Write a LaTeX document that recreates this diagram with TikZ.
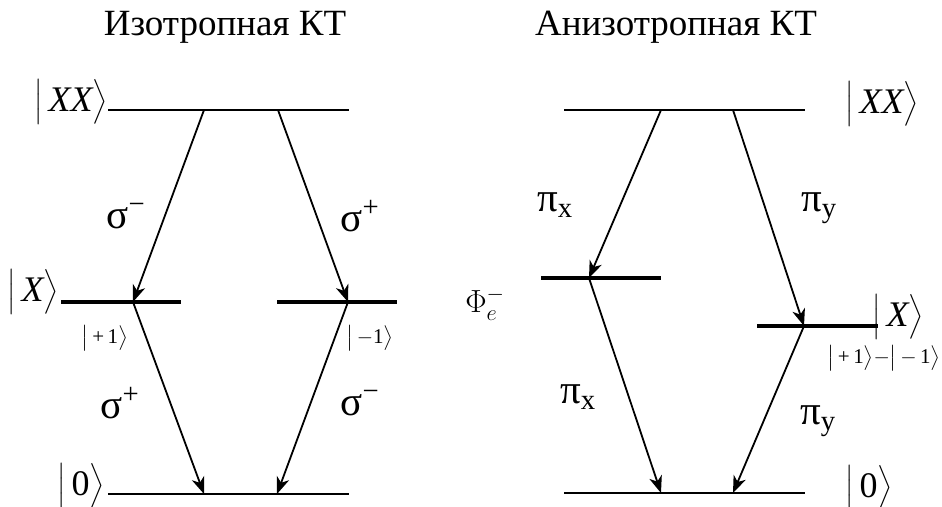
\RequirePackage{fix-cm}
\documentclass[tikz,border=0pt]{standalone}
\usepackage{amsmath}
\usepackage{fontspec}
\setmainfont{Liberation Serif}
\usetikzlibrary{arrows.meta}
\newcommand\myket[1]{$\bigl|\,\text{#1}\bigr\rangle$}
\tikzset{
  lev/.style={line width=2pt},
  xlev/.style={line width=4pt},
  tr/.style={line width=1.8pt, -{Stealth[length=17pt,width=13pt,inset=5pt]}},
  bigt/.style={font=\fontsize{36}{38}\selectfont, inner sep=0pt},
  smallt/.style={font=\fontsize{21}{23}\selectfont, inner sep=0pt},
  lbl/.style={font=\fontsize{41}{44}\selectfont, inner sep=0pt},
  ttl/.style={font=\fontsize{37}{42}\selectfont, inner sep=0pt, anchor=base}
}
\begin{document}
\begin{tikzpicture}[x=1pt,y=-1pt]
\useasboundingbox (0,0) rectangle (942,506);
% titles
\node[ttl] (t1) at (225,35) {Изотропная КТ};
\node[ttl] (t2) at (676,35) {Анизотропная КТ};
% ---------- left diagram
\coordinate (lxxa) at (108,110); \coordinate (lxxb) at (349,110);
\coordinate (lxa1) at (61,302);  \coordinate (lxb1) at (181,302);
\coordinate (lxa2) at (277,302); \coordinate (lxb2) at (397,302);
\coordinate (l0a) at (108,494);  \coordinate (l0b) at (349,494);
\coordinate (ls1) at (204,110); \coordinate (ls2) at (278,110);
\coordinate (lm1) at (133,302); \coordinate (lm2) at (348,302);
\coordinate (le1) at (204,494); \coordinate (le2) at (277,494);
\draw[lev] (lxxa) -- (lxxb);
\draw[xlev] (lxa1) -- (lxb1);
\draw[xlev] (lxa2) -- (lxb2);
\draw[lev] (l0a) -- (l0b);
\draw[tr] (ls1) -- (lm1);
\draw[tr] (ls2) -- (lm2);
\draw[tr] (lm1) -- (le1);
\draw[tr] (lm2) -- (le2);
\node[bigt] (kxxl) at (71,102) {\myket{\itshape XX}};
\node[bigt] (kxl) at (33,292) {\myket{\itshape X}};
\node[bigt] (k0l) at (81,486) {\myket{0}};
\node[smallt] (kp1) at (105,338) {\myket{+\,1}};
\node[smallt] (km1) at (370,338) {\myket{$-$1}};
\node[lbl] (s1) at (126,216) {σ\textsuperscript{−}};
\node[lbl] (s2) at (360,216) {σ\textsuperscript{+}};
\node[lbl] (s3) at (120,403) {σ\textsuperscript{+}};
\node[lbl] (s4) at (360,403) {σ\textsuperscript{−}};
% ---------- right diagram
\coordinate (rxxa) at (564,110); \coordinate (rxxb) at (805,110);
\coordinate (rxa1) at (541,278); \coordinate (rxb1) at (661,278);
\coordinate (rxa2) at (757,326); \coordinate (rxb2) at (878,326);
\coordinate (r0a) at (564,493);  \coordinate (r0b) at (805,493);
\coordinate (rs1) at (661,110); \coordinate (rs2) at (733,110);
\coordinate (rm1) at (589,278); \coordinate (rm2) at (804,326);
\coordinate (re1) at (661,493); \coordinate (re2) at (733,493);
\draw[lev] (rxxa) -- (rxxb);
\draw[xlev] (rxa1) -- (rxb1);
\draw[xlev] (rxa2) -- (rxb2);
\draw[lev] (r0a) -- (r0b);
\draw[tr] (rs1) -- (rm1);
\draw[tr] (rs2) -- (rm2);
\draw[tr] (rm1) -- (re1);
\draw[tr] (rm2) -- (re2);
\node[bigt] (kxxr) at (882,104) {\myket{\itshape XX}};
\node[bigt] (kxr) at (898,317) {\myket{\itshape X}};
\node[bigt] (k0r) at (869,488) {\myket{0}};
\node[smallt] (kpm) at (884,358) {\myket{+\,1}$-$\myket{$-$\,1}};
\node[font=\fontsize{32}{34}\selectfont, inner sep=0pt] (phi) at (485,304) {$\Phi^{-}_{e}$};
\node[lbl] (p1) at (555,205) {π\textsubscript{x}};
\node[lbl] (p2) at (819,208) {π\textsubscript{y}};
\node[lbl] (p3) at (578,397) {π\textsubscript{x}};
\node[lbl] (p4) at (818,421) {π\textsubscript{y}};
\end{tikzpicture}
\end{document}
